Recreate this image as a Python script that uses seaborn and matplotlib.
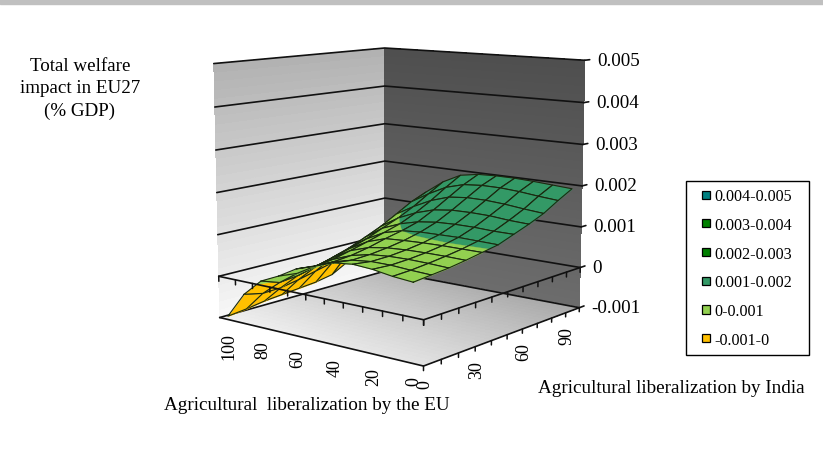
import numpy as np
import matplotlib
matplotlib.use('Agg')
import matplotlib.pyplot as plt
import seaborn as sns
from matplotlib.legend_handler import HandlerPatch
from matplotlib.patches import Patch, Rectangle
from mpl_toolkits.mplot3d import proj3d
from mpl_toolkits.mplot3d.art3d import Poly3DCollection

W, H = 823, 477

india_labels = ['0', '30', '60', '90']
india_label_pos = [0, 3, 6, 9]
eu_labels = ['100', '80', '60', '40', '20', '0']
eu_label_pos = [10, 8, 6, 4, 2, 0]
z_ticks = [-1, 0, 1, 2, 3, 4, 5]
z_labels = ['-0.001', '0', '0.001', '0.002', '0.003', '0.004', '0.005']

band_edges = [-1, 0, 1, 2, 3, 4, 5]
band_names = ['-0.001-0', '0-0.001', '0.001-0.002', '0.002-0.003', '0.003-0.004', '0.004-0.005']
band_colors = ['#FFC000', '#92D050', '#339966', '#008000', '#008000', '#008080']

# welfare in units of 0.001 % GDP, rows EU 0..100, columns India 0..100
eu_00 = [0.76, 0.80, 0.84, 0.90, 0.97, 1.04, 1.18, 1.32, 1.48, 1.70, 1.90]
eu_10 = [0.80, 0.82, 0.86, 0.91, 0.97, 1.05, 1.18, 1.34, 1.52, 1.74, 1.93]
eu_20 = [0.87, 0.85, 0.87, 0.91, 0.97, 1.06, 1.20, 1.38, 1.57, 1.79, 1.96]
eu_30 = [0.90, 0.85, 0.86, 0.90, 0.96, 1.05, 1.20, 1.39, 1.60, 1.82, 1.98]
eu_40 = [0.85, 0.80, 0.82, 0.87, 0.94, 1.04, 1.18, 1.38, 1.60, 1.82, 1.98]
eu_50 = [0.70, 0.68, 0.72, 0.80, 0.91, 1.00, 1.12, 1.32, 1.55, 1.78, 1.96]
eu_60 = [0.55, 0.50, 0.55, 0.65, 0.76, 0.88, 1.00, 1.18, 1.40, 1.65, 1.88]
eu_70 = [0.30, 0.25, 0.30, 0.40, 0.52, 0.65, 0.82, 0.98, 1.18, 1.42, 1.65]
eu_80 = [0.10, -0.05, 0.00, 0.10, 0.22, 0.35, 0.52, 0.70, 0.92, 1.15, 1.32]
eu_90 = [-0.30, -0.40, -0.38, -0.30, -0.20, -0.10, 0.05, 0.22, 0.42, 0.62, 0.80]
eu_100 = [-0.92, -0.87, -0.80, -0.76, -0.72, -0.68, -0.60, -0.37, -0.10, 0.10, 0.25]


def clip_band(poly, lo, hi):
    # cut a cell down to the part lying between two z levels
    for level, sign in ((lo, 1), (hi, -1)):
        out = []
        for a, b in zip(poly, poly[1:] + poly[:1]):
            da, db = sign * (a[2] - level), sign * (b[2] - level)
            if da >= 0:
                out.append(a)
            if da * db < 0:
                t = da / (da - db)
                out.append(tuple(a[k] + t * (b[k] - a[k]) for k in range(3)))
        poly = out
        if not poly:
            return []
    return poly


def wall(x, y, z, colors, zorder):
    ax.plot_surface(x, y, z, facecolors=colors, rstride=1, cstride=1, shade=False,
                    linewidth=0, antialiased=False, zorder=zorder)


def label3d(x, y, z, text, dx, dy, **kw):
    px, py, _ = proj3d.proj_transform(x, y, z, ax.get_proj())
    ax.annotate(text, (px, py), xytext=(dx, dy), textcoords='offset pixels',
                annotation_clip=False, **kw)


def square_handle(legend, orig_handle, xdescent, ydescent, width, height, fontsize):
    side = 5.8
    return Rectangle((width - side, (height - side) / 2), side, side)


sns.set_theme(style='white', font='Liberation Serif')

fig = plt.figure(figsize=(W / 100, H / 100), dpi=100)
ax = fig.add_axes([0.2177, 0.134, 0.527, 0.91], projection='3d')
ax.computed_zorder = False
ax.set_axis_off()
ax.set_box_aspect((1, 1, 0.98))
ax.set_proj_type('persp', focal_length=0.6)
ax.view_init(elev=10, azim=-141)
ax.set_xlim(0, 10, view_margin=0)
ax.set_ylim(0, 11, view_margin=0)
ax.set_zlim(-1, 5, view_margin=0)

welfare = np.array([eu_00, eu_10, eu_20, eu_30, eu_40, eu_50, eu_60, eu_70, eu_80, eu_90, eu_100])
india_pos = np.arange(welfare.shape[1])
eu_pos = np.arange(welfare.shape[0]) + 0.5

# walls and floor with the fill gradients
grey_left = sns.blend_palette(['#f6f6f6', '#b0b0b0'], as_cmap=True)
grey_right = sns.blend_palette(['#6c6c6c', '#4e4e4e'], as_cmap=True)
grey_floor = sns.blend_palette(['#f0f0f0', '#a6a6a6'], as_cmap=True)

s = np.linspace(0, 1, 31)
u, v = np.meshgrid(s, s)
wall(u * 10, np.full_like(u, 11.0), v * 6 - 1, grey_left(v[:-1, :-1]), 0)
wall(np.full_like(u, 10.0), u * 11, v * 6 - 1, grey_right(v[:-1, :-1]), 0)
wall(u * 10, v * 11, np.full_like(u, -1.0), grey_floor(0.8 * u[:-1, :-1] + 0.2 * (1 - v[:-1, :-1])), 1)

# gridlines on the walls
for z in z_ticks:
    lw = 1.2
    ax.plot([0, 10, 10], [11, 11, 0], [z, z, z], color='#111111', lw=lw, zorder=2)
    ax.plot([10, 10.35], [0, 0], [z, z], color='#111111', lw=lw, zorder=2)

# far cells first, the camera sits on the low India, low EU side
order = 10
for i in range(len(india_pos) - 2, -1, -1):
    for j in range(len(eu_pos) - 2, -1, -1):
        quad = [(india_pos[i], eu_pos[j], welfare[j, i]),
                (india_pos[i + 1], eu_pos[j], welfare[j, i + 1]),
                (india_pos[i + 1], eu_pos[j + 1], welfare[j + 1, i + 1]),
                (india_pos[i], eu_pos[j + 1], welfare[j + 1, i])]
        pieces, colors = [], []
        for k, color in enumerate(band_colors):
            piece = clip_band(quad, band_edges[k], band_edges[k + 1])
            if len(piece) > 2:
                pieces.append(piece)
                colors.append(color)
        ax.add_collection3d(Poly3DCollection(pieces, facecolors=colors, edgecolors=colors,
                                             linewidths=0.2, zorder=order), autolim=False)
        loop = np.array(quad + quad[:1])
        ax.plot(loop[:, 0], loop[:, 1], loop[:, 2], color='#1a2a10', lw=0.8, zorder=order)
        order += 1

# axes at the z=0 plane and floor edges, with their tick marks
front = order + 1
for z in (0, -1):
    ax.plot([0, 0, 10], [11, 0, 0], [z, z, z], color='#111111', lw=1.2, zorder=front)
for k in range(12):
    ax.plot([0, 0], [k, k], [0, -0.12], color='#111111', lw=1.1, zorder=front)
for k in range(11):
    ax.plot([k, k], [0, 0], [0, -0.12], color='#111111', lw=1.1, zorder=front)
    ax.plot([k, k], [0, 0], [-1, -1.1], color='#111111', lw=1.1, zorder=front)

for pos, text in zip(india_label_pos, india_labels):
    label3d(pos, 0, -1, text, 1, -13, rotation=90, ha='center', va='top', fontsize=13, color='black')
for pos, text in zip(eu_label_pos, eu_labels):
    label3d(0, pos + 0.5, -1, text, 1, -13, rotation=90, ha='center', va='top', fontsize=13, color='black')
for z, text in zip(z_ticks, z_labels):
    label3d(10, 0, z, text, 12, 0, ha='left', va='center', fontsize=13.7, color='black')

fig.add_artist(Rectangle((0, 1 - 5 / H), 1, 5 / H, transform=fig.transFigure, color='#c0c0c0'))

fig.text(80 / W, 1 - 89 / H, 'Total welfare\nimpact in EU27\n(% GDP)', ha='center', va='center',
         fontsize=13.7, linespacing=1.42, color='black')
fig.text(307 / W, 1 - 406 / H, 'Agricultural  liberalization by the EU', ha='center', va='center',
         fontsize=13.8, color='black')
fig.text(671 / W, 1 - 389 / H, 'Agricultural liberalization by India', ha='center', va='center',
         fontsize=13.8, color='black')

handles = [Patch(facecolor=c, edgecolor='black', linewidth=0.9, label=n)
           for c, n in zip(band_colors[::-1], band_names[::-1])]
leg = fig.legend(handles=handles, loc='upper left', mode='expand',
                 bbox_to_anchor=(686 / W, 1 - 357 / H, 123 / W, 175 / H), bbox_transform=fig.transFigure,
                 borderaxespad=0, borderpad=0.45, labelspacing=0.79, fontsize=11.6,
                 handlelength=1.04, handletextpad=0.25, fancybox=False, framealpha=1,
                 edgecolor='black', labelcolor='black',
                 handler_map={Patch: HandlerPatch(patch_func=square_handle)})
leg.get_frame().set_linewidth(1.0)

fig.savefig('out.png', dpi=100)
